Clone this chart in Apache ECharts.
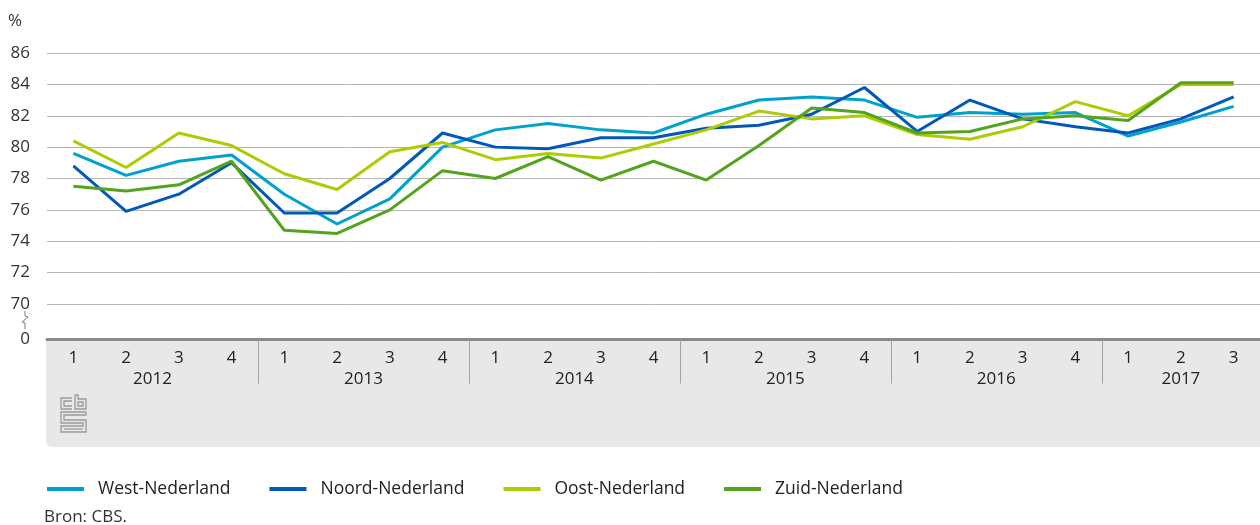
<!DOCTYPE html>
<html>
<head>
<meta charset="utf-8">
<script src="https://cdn.jsdelivr.net/npm/echarts@6/dist/echarts.min.js"></script>
<style>
  html, body { margin: 0; padding: 0; background: #fff; }
  #chart { width: 1260px; height: 525px; }
</style>
</head>
<body>
<div id="chart"></div>
<script>
// kwartalen 2012 t/m 2017 (3e kwartaal)
const years = ['2012', '2013', '2014', '2015', '2016', '2017']
const quartersPerYear = [4, 4, 4, 4, 4, 3]

const west = [79.6, 78.2, 79.1, 79.5, 77.0, 75.1, 76.7, 80.0, 81.1, 81.5, 81.1, 80.9, 82.1, 83.0, 83.2, 83.0, 81.9, 82.2, 82.1, 82.2, 80.7, 81.6, 82.6]
const noord = [78.8, 75.9, 77.0, 79.0, 75.8, 75.8, 78.0, 80.9, 80.0, 79.9, 80.6, 80.6, 81.2, 81.4, 82.1, 83.8, 81.0, 83.0, 81.8, 81.3, 80.9, 81.8, 83.2]
const oost = [80.4, 78.7, 80.9, 80.1, 78.3, 77.3, 79.7, 80.3, 79.2, 79.6, 79.3, 80.2, 81.1, 82.3, 81.8, 82.0, 80.8, 80.5, 81.3, 82.9, 82.0, 84.0, 84.0]
const zuid = [77.5, 77.2, 77.6, 79.1, 74.7, 74.5, 76.0, 78.5, 78.0, 79.4, 77.9, 79.1, 77.9, 80.1, 82.5, 82.2, 80.9, 81.0, 81.8, 82.0, 81.7, 84.1, 84.1]

const seriesNames = ['West-Nederland', 'Noord-Nederland', 'Oost-Nederland', 'Zuid-Nederland']
const colors = ['#00a1cd', '#0058b8', '#afcb05', '#53a31d']

// categorieen opbouwen
const periods = []
years.forEach(function(y, i) {
  for (let q = 1; q <= quartersPerYear[i]; q++) periods.push(y + '-' + q)
})

// halve stappen voor de jaar-as (labels midden in het jaar, streep tussen jaren)
const yearSlots = []
const yearLabelAt = {}
const yearTickAt = {}
let pos = 0
years.forEach(function(y, i) {
  yearLabelAt[pos + quartersPerYear[i]] = y
  if (pos > 0) yearTickAt[pos] = true
  pos += quartersPerYear[i] * 2
})
for (let k = 0; k <= periods.length * 2; k++) yearSlots.push(String(k))

const font = '"Open Sans", "Noto Sans", sans-serif'
const chart = echarts.init(document.getElementById('chart'))

chart.setOption({
  animation: false,
  color: colors,
  textStyle: { fontFamily: font },
  grid: [
    { left: 47, right: 0, top: 53, height: 251 },
    { left: 47, right: 0, top: 338, height: 1.5 }
  ],
  title: {
    text: 'Bron: CBS.',
    left: 44,
    top: 509,
    padding: 0,
    textStyle: { fontSize: 17, fontWeight: 'normal', color: '#333', fontFamily: font }
  },
  legend: {
    left: 47,
    top: 480,
    padding: 0,
    icon: 'rect',
    itemWidth: 37,
    itemHeight: 4,
    itemGap: 39,
    textStyle: { fontSize: 17.5, color: '#222', padding: [0, 0, 0, 9], fontFamily: font },
    data: seriesNames
  },
  xAxis: [
    {
      type: 'category',
      gridIndex: 0,
      data: periods,
      show: false
    },
    {
      type: 'category',
      gridIndex: 1,
      position: 'bottom',
      data: periods,
      axisLine: { lineStyle: { color: '#8a8a8a', width: 3 } },
      axisTick: { interval: 0, length: 24, lineStyle: { color: '#a3a3a3', width: 1 } },
      axisLabel: {
        interval: 0,
        margin: 10,
        fontSize: 17,
        color: '#222',
        formatter: function(v) { return v.split('-')[1] }
      }
    },
    {
      type: 'category',
      gridIndex: 1,
      position: 'bottom',
      boundaryGap: false,
      data: yearSlots,
      axisLine: { show: false },
      axisTick: {
        length: 44,
        interval: function(idx) { return !!yearTickAt[idx] },
        lineStyle: { color: '#a3a3a3', width: 1 }
      },
      axisLabel: {
        margin: 31,
        fontSize: 17,
        color: '#222',
        interval: function(idx) { return yearLabelAt[idx] !== undefined },
        formatter: function(v) { return yearLabelAt[v] || '' }
      }
    }
  ],
  yAxis: [
    {
      type: 'value',
      gridIndex: 0,
      min: 70,
      max: 86,
      interval: 2,
      name: '%',
      nameLocation: 'end',
      nameGap: 23,
      nameTextStyle: { fontSize: 17, color: '#333', align: 'right', padding: [0, 25, 0, 0] },
      axisLine: { show: false },
      axisTick: { show: false },
      axisLabel: { margin: 17, fontSize: 17, color: '#333' },
      splitLine: { lineStyle: { color: '#b4b4b4', width: 1 } }
    },
    {
      type: 'value',
      gridIndex: 1,
      min: 0,
      max: 1,
      interval: 1,
      axisLine: { show: false },
      axisTick: { show: false },
      splitLine: { show: false },
      axisLabel: {
        margin: 17,
        fontSize: 17,
        color: '#333',
        formatter: function(v) { return v === 0 ? '0' : '' }
      }
    }
  ],
  graphic: [
    {
      type: 'rect',
      z: -10,
      shape: { x: 46, y: 339, width: 1214, height: 108, r: [0, 0, 0, 6] },
      style: { fill: '#e8e8e8' }
    },
    {
      // asbreuk
      type: 'polyline',
      shape: { points: [[25, 311], [25, 316], [28, 317], [22, 322], [25, 323], [25, 329]] },
      style: { stroke: '#7a7a7a', lineWidth: 1, fill: null }
    },
    {
      // cbs logo
      type: 'group',
      children: [
        { type: 'polyline', shape: { points: [[72, 398], [61, 398], [61, 409], [72, 409]] }, style: { stroke: '#9a9a9a', lineWidth: 1.3, fill: null } },
        { type: 'polyline', shape: { points: [[72, 401], [64, 401], [64, 406], [72, 406]] }, style: { stroke: '#9a9a9a', lineWidth: 1.3, fill: null } },
        { type: 'polyline', shape: { points: [[75, 395], [75, 409], [86, 409], [86, 399], [78, 399], [78, 395], [75, 395]] }, style: { stroke: '#9a9a9a', lineWidth: 1.3, fill: null } },
        { type: 'rect', shape: { x: 78, y: 402, width: 5, height: 4 }, style: { stroke: '#9a9a9a', lineWidth: 1.3, fill: null } },
        { type: 'polyline', shape: { points: [[86, 412], [61, 412], [61, 423], [83, 423], [83, 426], [61, 426], [61, 432], [86, 432], [86, 420], [64, 420], [64, 415], [86, 415], [86, 412]] }, style: { stroke: '#9a9a9a', lineWidth: 1.3, fill: null } },
        { type: 'polyline', shape: { points: [[64, 429], [83, 429]] }, style: { stroke: '#9a9a9a', lineWidth: 1.3, fill: null } }
      ]
    }
  ],
  series: [
    { name: seriesNames[0], type: 'line', data: west, xAxisIndex: 0, yAxisIndex: 0, symbol: 'none', lineStyle: { width: 3 } },
    { name: seriesNames[1], type: 'line', data: noord, xAxisIndex: 0, yAxisIndex: 0, symbol: 'none', lineStyle: { width: 3 } },
    { name: seriesNames[2], type: 'line', data: oost, xAxisIndex: 0, yAxisIndex: 0, symbol: 'none', lineStyle: { width: 3 } },
    { name: seriesNames[3], type: 'line', data: zuid, xAxisIndex: 0, yAxisIndex: 0, symbol: 'none', lineStyle: { width: 3 } }
  ]
})
</script>
</body>
</html>
